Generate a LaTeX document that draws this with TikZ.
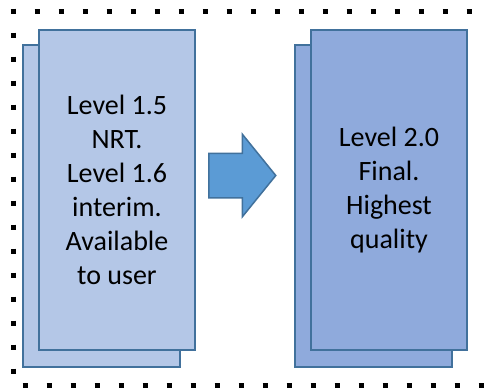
\documentclass[tikz,border=0pt]{standalone}
\usepackage{fontspec}
\setmainfont{Carlito}
\usetikzlibrary{shapes.arrows}

\definecolor{lightfill}{HTML}{B4C7E7}
\definecolor{darkfill}{HTML}{8FAADC}
\definecolor{edgeblue}{HTML}{41719C}
\definecolor{arrowfill}{HTML}{5B9BD5}

\begin{document}
\begin{tikzpicture}[x=1bp,y=-1bp]
\tikzset{
  stackbox/.style={rectangle,draw=edgeblue,line width=1.5bp,inner sep=0pt,align=center,
    font=\fontsize{28bp}{34bp}\selectfont},
  backbox/.style={stackbox,minimum width=157bp,minimum height=322bp},
  frontbox/.style={stackbox,minimum width=156bp,minimum height=320bp},
  bigarrow/.style={single arrow,draw=edgeblue,fill=arrowfill,line width=1.5bp,
    inner xsep=0pt,inner ysep=21.5bp,single arrow head extend=19bp,
    single arrow tip angle=102,minimum height=67bp},
  dotline/.style={line width=5bp,dash pattern=on 5bp off 19bp}
}
\useasboundingbox (0,0) rectangle (491,389);
\fill[white] (0,0) rectangle (491,389);
% dotted frame
\draw[dotline] (10.5,11) -- (476,11);
\draw[dotline] (13,8.5) -- (13,377);
\draw[dotline] (22.5,385) -- (491,385);
% left stack
\node[backbox,fill=lightfill] (b_l) at (101.5,206) {};
\node[frontbox,fill=lightfill] (f_l) at (117,190) {Level 1.5\\NRT.\\Level 1.6\\interim.\\Available\\to user};
% right stack
\node[backbox,fill=darkfill] (b_r) at (373.5,206) {};
\node[frontbox,fill=darkfill] (f_r) at (389,190) {Level 2.0\\Final.\\Highest\\quality};
% arrow between
\node[bigarrow,anchor=tail] (step_arrow) at (208,175.5) {};
\end{tikzpicture}
\end{document}
